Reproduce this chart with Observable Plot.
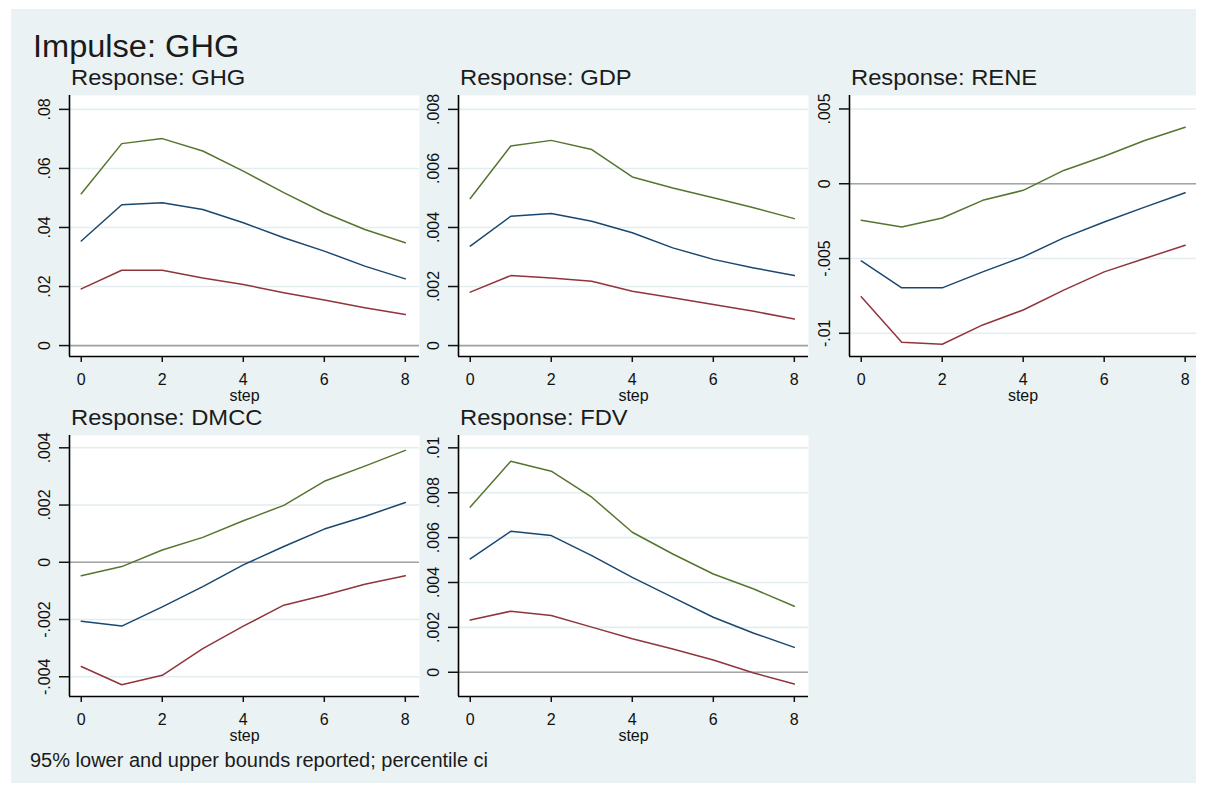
<!DOCTYPE html>
<html>
<head>
<meta charset="utf-8">
<script src="https://cdn.jsdelivr.net/npm/d3@7"></script>
<script src="https://cdn.jsdelivr.net/npm/@observablehq/plot@0.6"></script>
<style>
  html, body { margin: 0; padding: 0; background: #ffffff; }
  #chart { position: relative; width: 1207px; height: 791px; overflow: hidden; font-family: "Liberation Sans", Arial, sans-serif; }
  #bg { position: absolute; left: 11px; top: 9px; width: 1185px; height: 774px; background: #eaf2f3; }
  .title { position: absolute; left: 33px; top: 31px; font-size: 31px; line-height: 31px; color: #1b1b1b; white-space: nowrap; transform: scaleX(1.05); transform-origin: left center; }
  .sub { position: absolute; font-size: 22px; line-height: 22px; color: #1b1b1b; white-space: nowrap; transform: scaleX(1.08); transform-origin: left center; }
  .note { position: absolute; left: 30px; top: 750px; font-size: 20px; line-height: 20px; color: #1b1b1b; white-space: nowrap; }
  .panel { position: absolute; }
</style>
</head>
<body>
<div id="chart"><div id="bg"></div></div>
<script>
// ---------- data ----------
const steps = [0, 1, 2, 3, 4, 5, 6, 7, 8];
const xTicks = [0, 2, 4, 6, 8];
const xTickLabels = ["0", "2", "4", "6", "8"];

const titleText = "Impulse: GHG";
const noteText = "95% lower and upper bounds reported; percentile ci";
const xLabel = "step";

const responses = ["GHG", "GDP", "RENE", "DMCC", "FDV"];

// GHG response
const ghgIrf   = [0.0354, 0.0477, 0.0484, 0.0461, 0.0416, 0.0365, 0.0320, 0.0269, 0.0226];
const ghgLower = [0.0192, 0.0255, 0.0255, 0.0229, 0.0207, 0.0179, 0.0154, 0.0128, 0.0105];
const ghgUpper = [0.0514, 0.0684, 0.0701, 0.0659, 0.0591, 0.0518, 0.0450, 0.0393, 0.0348];
const ghgTicks = [0, 0.02, 0.04, 0.06, 0.08];
const ghgTickLabels = ["0", ".02", ".04", ".06", ".08"];

// GDP response
const gdpIrf   = [0.00337, 0.00438, 0.00447, 0.00421, 0.00382, 0.00331, 0.00292, 0.00263, 0.00237];
const gdpLower = [0.00181, 0.00237, 0.00229, 0.00218, 0.00184, 0.00162, 0.00139, 0.00116, 0.00090];
const gdpUpper = [0.00498, 0.00676, 0.00695, 0.00664, 0.00571, 0.00534, 0.00501, 0.00467, 0.00430];
const gdpTicks = [0, 0.002, 0.004, 0.006, 0.008];
const gdpTickLabels = ["0", ".002", ".004", ".006", ".008"];

// RENE response
const reneIrf   = [-0.00516, -0.00696, -0.00696, -0.00589, -0.00489, -0.00362, -0.00256, -0.00156, -0.00060];
const reneLower = [-0.00756, -0.01060, -0.01073, -0.00944, -0.00844, -0.00711, -0.00589, -0.00500, -0.00411];
const reneUpper = [-0.00244, -0.00289, -0.00229, -0.00111, -0.00044, 0.00089, 0.00184, 0.00289, 0.00378];
const reneTicks = [-0.01, -0.005, 0, 0.005];
const reneTickLabels = ["-.01", "-.005", "0", ".005"];

// DMCC response
const dmccIrf   = [-0.00206, -0.00223, -0.00156, -0.00085, -0.00009, 0.00055, 0.00116, 0.00160, 0.00209];
const dmccLower = [-0.00364, -0.00428, -0.00395, -0.00302, -0.00223, -0.00150, -0.00115, -0.00077, -0.00047];
const dmccUpper = [-0.00047, -0.00015, 0.00043, 0.00087, 0.00145, 0.00199, 0.00283, 0.00336, 0.00391];
const dmccTicks = [-0.004, -0.002, 0, 0.002, 0.004];
const dmccTickLabels = ["-.004", "-.002", "0", ".002", ".004"];

// FDV response
const fdvIrf   = [0.00505, 0.00628, 0.00609, 0.00520, 0.00423, 0.00334, 0.00245, 0.00174, 0.00111];
const fdvLower = [0.00233, 0.00272, 0.00253, 0.00201, 0.00149, 0.00104, 0.00055, -0.00003, -0.00052];
const fdvUpper = [0.00736, 0.00940, 0.00896, 0.00780, 0.00624, 0.00527, 0.00438, 0.00371, 0.00294];
const fdvTicks = [0, 0.002, 0.004, 0.006, 0.008, 0.01];
const fdvTickLabels = ["0", ".002", ".004", ".006", ".008", ".01"];

// ---------- styling / layout ----------
const colIrf = "#1a476f", colLower = "#90353b", colUpper = "#55752f";
const gridColor = "#e3edf0", zeroColor = "#a3a3a3";

const panels = [
  {name: "GHG",  irf: ghgIrf,  lo: ghgLower,  hi: ghgUpper,  ticks: ghgTicks,  labels: ghgTickLabels,  yDomain: [-0.0037, 0.0847],   fx: 69,  fy: 95,  fw: 350, xDomain: [-0.29, 8.35]},
  {name: "GDP",  irf: gdpIrf,  lo: gdpLower,  hi: gdpUpper,  ticks: gdpTicks,  labels: gdpTickLabels,  yDomain: [-0.00037, 0.00847], fx: 458, fy: 95,  fw: 350, xDomain: [-0.29, 8.35]},
  {name: "RENE", irf: reneIrf, lo: reneLower, hi: reneUpper, ticks: reneTicks, labels: reneTickLabels, yDomain: [-0.01155, 0.0059],  fx: 849, fy: 95,  fw: 347, xDomain: [-0.29, 8.28]},
  {name: "DMCC", irf: dmccIrf, lo: dmccLower, hi: dmccUpper, ticks: dmccTicks, labels: dmccTickLabels, yDomain: [-0.00469, 0.00443], fx: 69,  fy: 435, fw: 350, xDomain: [-0.29, 8.35]},
  {name: "FDV",  irf: fdvIrf,  lo: fdvLower,  hi: fdvUpper,  ticks: fdvTicks,  labels: fdvTickLabels,  yDomain: [-0.00108, 0.01055], fx: 458, fy: 435, fw: 350, xDomain: [-0.29, 8.35]}
];

const chart = document.getElementById("chart");

const t = document.createElement("div");
t.className = "title"; t.textContent = titleText; chart.appendChild(t);

const ML = 58, MT = 6, MR = 6, MB = 52, FH = 261;

for (const p of panels) {
  const rows = steps.map((s, i) => ({step: s, irf: p.irf[i], lo: p.lo[i], hi: p.hi[i]}));
  const plot = Plot.plot({
    width: ML + p.fw + MR,
    height: MT + FH + MB,
    marginLeft: ML, marginTop: MT, marginRight: MR, marginBottom: MB,
    style: {background: "transparent", fontFamily: "'Liberation Sans', Arial, sans-serif", fontSize: "16px", color: "#111", overflow: "visible"},
    x: {domain: p.xDomain},
    y: {domain: p.yDomain},
    marks: [
      Plot.frame({fill: "white", stroke: null}),
      Plot.gridY(p.ticks, {stroke: gridColor, strokeOpacity: 1, strokeWidth: 1.6}),
      Plot.ruleY([0], {stroke: zeroColor, strokeWidth: 1.6}),
      Plot.line(rows, {x: "step", y: "lo", stroke: colLower, strokeWidth: 1.5}),
      Plot.line(rows, {x: "step", y: "hi", stroke: colUpper, strokeWidth: 1.5}),
      Plot.line(rows, {x: "step", y: "irf", stroke: colIrf, strokeWidth: 1.5}),
      Plot.ruleX([p.xDomain[0]], {stroke: "#000", strokeWidth: 1.6}),
      Plot.ruleY([p.yDomain[0]], {stroke: "#000", strokeWidth: 1.6}),
      Plot.axisY(p.ticks, {anchor: "left", tickSize: 10, tickPadding: 10, tickRotate: -90,
        tickFormat: d => p.labels[p.ticks.indexOf(d)], label: null, fontSize: 16, strokeWidth: 1.5}),
      Plot.axisX(xTicks, {anchor: "bottom", tickSize: 6, tickPadding: 11,
        tickFormat: d => xTickLabels[xTicks.indexOf(d)], label: null, fontSize: 16, strokeWidth: 1.5}),
      Plot.text([xLabel], {frameAnchor: "bottom", dy: 39, lineAnchor: "middle", textAnchor: "middle", fontSize: 16, fill: "#111"})
    ]
  });
  plot.classList.add("panel");
  plot.style.left = (p.fx - ML) + "px";
  plot.style.top = (p.fy - MT) + "px";
  chart.appendChild(plot);

  const s = document.createElement("div");
  s.className = "sub";
  s.textContent = "Response: " + p.name;
  s.style.left = (p.fx + 2) + "px";
  s.style.top = (p.fy - 28) + "px";
  chart.appendChild(s);
}

const n = document.createElement("div");
n.className = "note"; n.textContent = noteText; chart.appendChild(n);
</script>
</body>
</html>
